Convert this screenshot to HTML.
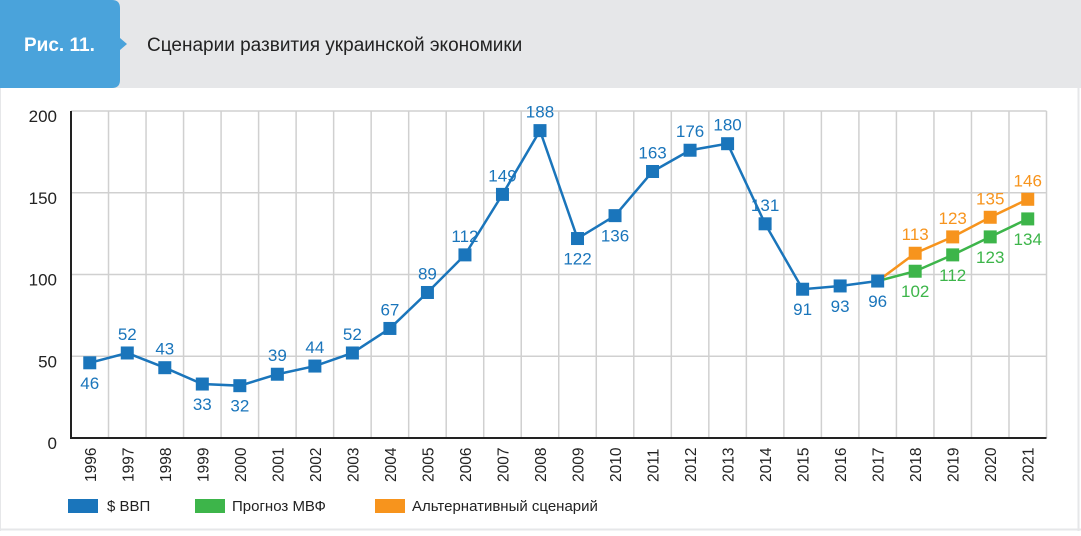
<!DOCTYPE html>
<html><head><meta charset="utf-8"><style>
body{margin:0;background:#fff;font-family:"Liberation Sans",sans-serif;}
svg text{font-family:"Liberation Sans",sans-serif;}
</style></head><body>
<svg id="c" width="1081" height="531" xmlns="http://www.w3.org/2000/svg">
<rect x="0" y="0" width="1081" height="531" fill="#fff"/>
<rect x="0" y="0" width="1081" height="88" fill="#e6e7e9"/>
<path d="M0,0 H112 Q120,0 120,8 V38 L127,44 L120,50 V80 Q120,88 112,88 H0 Z" fill="#4aa3db"/>
<text x="24" y="51" font-size="19" font-weight="bold" fill="#fff">Рис. 11.</text>
<text x="147" y="51" font-size="19" fill="#222">Сценарии развития украинской экономики</text>
<line x1="1078.5" y1="88" x2="1078.5" y2="531" stroke="#e6e7e9" stroke-width="2"/>
<line x1="0" y1="529.5" x2="1081" y2="529.5" stroke="#e6e7e9" stroke-width="2"/>
<line x1="0.5" y1="88" x2="0.5" y2="531" stroke="#e6e7e9" stroke-width="1"/>
<g id="grid"></g><g id="marks"></g><g id="legend"></g>
</svg>
<script>
const years=["1996","1997","1998","1999","2000","2001","2002","2003","2004","2005","2006","2007","2008","2009","2010","2011","2012","2013","2014","2015","2016","2017","2018","2019","2020","2021"];
const gdp=[46,52,43,33,32,39,44,52,67,89,112,149,188,122,136,163,176,180,131,91,93,96];
const gdpLabelPos=["b","a","a","b","b","a","a","a","a","a","a","a","a","b","b","a","a","a","a","b","b","b"];
const imf=[96,102,112,123,134];
const alt=[96,113,123,135,146];
const yTicks=[0,50,100,150,200];
const forecastStart=21;
const NS="http://www.w3.org/2000/svg";
const L=71,R=1046.5,T=111,B=438;
const step=(R-L)/years.length;
const xs=i=>L+step*(i+0.5);
const ys=v=>B-(v/200)*(B-T);
function el(t,a,p){const e=document.createElementNS(NS,t);for(const k in a)e.setAttribute(k,a[k]);p.appendChild(e);return e;}
const grid=document.getElementById('grid'),marks=document.getElementById('marks'),leg=document.getElementById('legend');
yTicks.forEach(v=>{
 if(v>0){const g=el('line',{x1:L,x2:R,y1:ys(v),y2:ys(v),stroke:'#d0d0d0','stroke-width':1.5},grid);
 
 }
 const t=el('text',{x:57,y:ys(v)+11,'text-anchor':'end','font-size':17,fill:'#222'},grid);t.textContent=v;
 
 
});
years.forEach((y,i)=>{
 const gx=L+step*(i+1);
 const g=el('line',{x1:gx,x2:gx,y1:T,y2:B,stroke:'#d0d0d0','stroke-width':1.5},grid);
 
 
 const t=el('text',{transform:`translate(${xs(i)+6},482) rotate(-90)`,'font-size':15.5,fill:'#222'},grid);t.textContent=y;
 
 
});
el('line',{x1:L,x2:L,y1:T,y2:B+1,stroke:'#222','stroke-width':2},grid);
el('line',{x1:L,x2:R,y1:B,y2:B,stroke:'#222','stroke-width':2},grid);
function series(vals,off,color,name,pos){
 const pts=vals.map((v,i)=>[xs(i+off),ys(v)]);
 const pl=el('polyline',{points:pts.map(p=>p.join(',')).join(' '),fill:'none',stroke:color,'stroke-width':2.5},marks);
 
 
 vals.forEach((v,i)=>{
  if(off>0&&i===0)return;
  const [x,y]=pts[i];
  const r=el('rect',{x:x-6.5,y:y-6.5,width:13,height:13,fill:color},marks);
  
  
  const p=pos(i);
  const t=el('text',{x:x,y:p==='a'?y-13:y+26,'text-anchor':'middle','font-size':17,fill:color},marks);t.textContent=v;
  
  
 });
}
series(imf,forecastStart,'#3db54a','imf',()=> 'b');
series(alt,forecastStart,'#f7941d','alt',()=> 'a');
series(gdp,0,'#1a75bb','gdp',i=>gdpLabelPos[i]);
[["$ ВВП","#1a75bb",68,107],["Прогноз МВФ","#3db54a",195,232],["Альтернативный сценарий","#f7941d",375,412]].forEach(([n,c,x,tx],k)=>{
 const r=el('rect',{x:x,y:499,width:30,height:14,fill:c},leg);
 
 
 const t=el('text',{x:tx,y:511,'font-size':15,fill:'#222'},leg);t.textContent=n;
 
 
});
</script>
</body></html>
